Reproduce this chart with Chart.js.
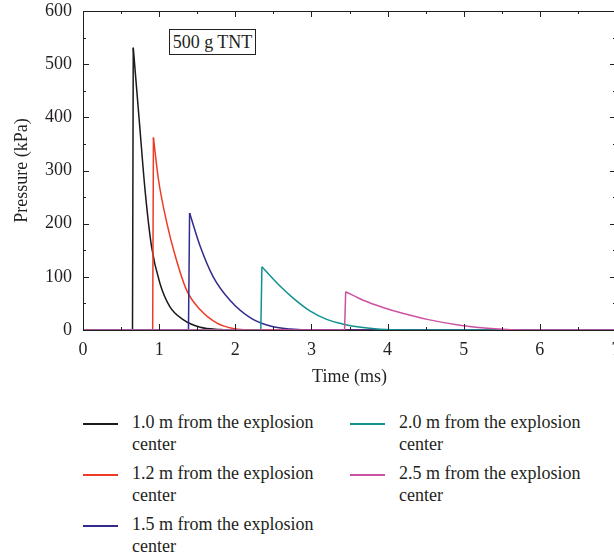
<!DOCTYPE html>
<html>
<head>
<meta charset="utf-8">
<script src="https://cdn.jsdelivr.net/npm/chart.js@4/dist/chart.umd.min.js"></script>
<style>
  html, body { margin: 0; padding: 0; background: #fff; overflow: hidden; width: 614px; height: 559px; }
  #wrap { position: absolute; left: 0; top: 0; width: 640px; height: 400px; }
  #note { position: absolute; left: 169px; top: 29px; width: 85px; height: 24px; border: 1px solid #231f20;
          font: 18px "Liberation Serif", serif; color: #231f20; text-align: center; line-height: 24px; background:#fff; }
  #legend { position: absolute; left: 83px; top: 412px; display: grid; grid-template-columns: 267px 260px;
            grid-template-rows: 43px 43px 43px; row-gap: 8px; grid-auto-flow: column; }
  .item { display: flex; align-items: flex-start; font: 18px "Liberation Serif", serif; color: #231f20; line-height: 21.5px; }
  .sw { width: 35px; height: 1.5px; margin-top: 11px; margin-right: 14px; flex: none; }
  .tx { width: 205px; }
</style>
</head>
<body>
<div id="wrap"><canvas id="c" width="640" height="400"></canvas></div>
<div id="note">500 g TNT</div>
<div id="legend"></div>
<script>
// Series labels and colours
const seriesLabels = ["1.0 m from the explosion center", "1.2 m from the explosion center",
  "1.5 m from the explosion center", "2.0 m from the explosion center", "2.5 m from the explosion center"];
const seriesColors = ["#1a1a1a", "#ee3b26", "#312b8d", "#10928f", "#cc52a1"];

// Arrival (rise) time in ms for each distance
const riseTime = [0.65, 0.915, 1.385, 2.335, 3.435];

// Decay readings after the peak: time (ms) and pressure (kPa)
const t10 = [0.66, 0.74, 0.815, 0.90, 1.01, 1.14, 1.32, 1.54, 1.80, 2.0, 7];
const p10 = [531, 392, 263, 157, 88, 44, 19, 5, 1, 0, 0];
const t12 = [0.925, 0.99, 1.10, 1.21, 1.36, 1.54, 1.76, 1.97, 2.3, 7];
const p12 = [362, 284, 202, 140, 75, 38, 13, 3, 0, 0];
const t15 = [1.40, 1.54, 1.71, 1.93, 2.21, 2.50, 2.72, 3.0, 7];
const p15 = [220, 157, 100, 56, 22, 6, 2, 0, 0];
const t20 = [2.35, 2.55, 2.76, 2.98, 3.20, 3.42, 3.65, 3.90, 4.2, 7];
const p20 = [119, 88, 60, 36, 20, 11, 5, 1.5, 0, 0];
const t25 = [3.45, 3.68, 3.95, 4.21, 4.52, 4.95, 5.4, 5.8, 7];
const p25 = [72, 56, 42, 31, 20, 9, 2.5, 0, 0];

const times = [t10, t12, t15, t20, t25];
const pressures = [p10, p12, p15, p20, p25];

// Axis settings
const xMin = 0, xMax = 7, xStep = 1, xMinor = 0.5;
const yMin = 0, yMax = 600, yStep = 100, yMinor = 50;

const textColor = "#231f20";
const fontFam = '"Liberation Serif", "Times New Roman", serif';

const datasets = [];
const n = seriesLabels.length;
seriesLabels.forEach((lab, i) => {
  // baseline and vertical shock front
  datasets.push({
    label: lab + " (front)",
    data: [{ x: xMin, y: 0 }, { x: riseTime[i], y: 0 }, { x: times[i][0], y: pressures[i][0] }],
    showLine: true, borderColor: seriesColors[i], borderWidth: 1.5,
    pointRadius: 0, tension: 0, fill: false, order: n - i
  });
  // smooth decay
  datasets.push({
    label: lab,
    data: times[i].map((t, k) => ({ x: t, y: pressures[i][k] })),
    showLine: true, borderColor: seriesColors[i], borderWidth: 1.5,
    pointRadius: 0, cubicInterpolationMode: 'monotone', fill: false, order: n - i
  });
});

const framePlugin = {
  id: 'frame',
  afterDraw(chart) {
    const { ctx, chartArea: a, scales: { x, y } } = chart;
    ctx.save();
    ctx.strokeStyle = textColor;
    ctx.lineWidth = 1;
    ctx.strokeRect(a.left + 0.5, a.top + 0.5, a.right - a.left, a.bottom - a.top);
    for (let v = xMin; v <= xMax + 1e-9; v += xMinor) {
      const px = Math.round(x.getPixelForValue(v)) + 0.5;
      const major = Math.abs(v - Math.round(v / xStep) * xStep) < 1e-9;
      const len = major ? 6 : 3;
      ctx.beginPath();
      ctx.moveTo(px, a.bottom); ctx.lineTo(px, a.bottom - len);
      ctx.moveTo(px, a.top); ctx.lineTo(px, a.top + len);
      ctx.stroke();
    }
    for (let v = yMin; v <= yMax + 1e-9; v += yMinor) {
      const py = Math.round(y.getPixelForValue(v)) + 0.5;
      const major = Math.abs(v - Math.round(v / yStep) * yStep) < 1e-9;
      const len = major ? 6 : 3;
      ctx.beginPath();
      ctx.moveTo(a.left, py); ctx.lineTo(a.left + len, py);
      ctx.moveTo(a.right, py); ctx.lineTo(a.right - len, py);
      ctx.stroke();
    }
    ctx.restore();
  }
};

const chart = new Chart(document.getElementById('c'), {
  type: 'scatter',
  data: { datasets },
  options: {
    responsive: false,
    animation: false,
    events: [],
    layout: { padding: { top: 11, right: 24, left: 0, bottom: 0 } },
    plugins: { legend: { display: false }, tooltip: { enabled: false } },
    scales: {
      x: {
        type: 'linear', min: xMin, max: xMax,
        ticks: { stepSize: xStep, color: textColor, font: { family: fontFam, size: 18 }, padding: 9, maxRotation: 0 },
        grid: { display: false, drawTicks: false },
        border: { display: false },
        title: { display: true, text: 'Time (ms)', color: textColor, font: { family: fontFam, size: 18 }, padding: { top: 0, bottom: 12 } },
        afterFit(s) { s.height = 70; s.paddingLeft = 0; s.paddingRight = 0; }
      },
      y: {
        type: 'linear', min: yMin, max: yMax,
        ticks: { stepSize: yStep, color: textColor, font: { family: fontFam, size: 18 }, padding: 11 },
        grid: { display: false, drawTicks: false },
        border: { display: false },
        title: { display: true, text: 'Pressure (kPa)', color: textColor, font: { family: fontFam, size: 18 }, padding: { top: 11, bottom: 0 } },
        afterFit(s) { s.width = 83; s.paddingTop = 0; s.paddingBottom = 0; }
      }
    }
  },
  plugins: [framePlugin]
});

// HTML legend built from the series arrays
const legendEl = document.getElementById('legend');
seriesLabels.forEach((lab, i) => {
  const item = document.createElement('div');
  item.className = 'item';
  const sw = document.createElement('div');
  sw.className = 'sw';
  sw.style.background = seriesColors[i];
  const tx = document.createElement('div');
  tx.className = 'tx';
  tx.textContent = lab;
  item.appendChild(sw); item.appendChild(tx);
  legendEl.appendChild(item);
});
</script>
</body>
</html>
